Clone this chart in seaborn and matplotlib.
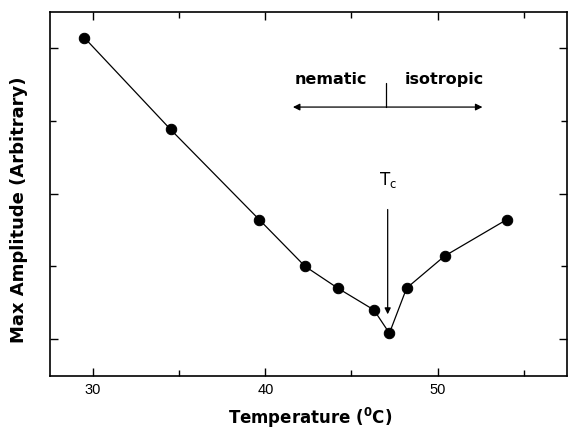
import matplotlib
matplotlib.use("Agg")
import matplotlib.pyplot as plt
import seaborn as sns
import pandas as pd
from matplotlib.ticker import MultipleLocator, NullFormatter

temperature = [29.5, 34.5, 39.65, 42.3, 44.2, 46.3, 47.2, 48.2, 50.4, 54.0]
amplitude = [2.07, 1.44, 0.82, 0.50, 0.35, 0.20, 0.04, 0.35, 0.57, 0.82]

sns.set_theme(style="ticks")
plt.rcParams['font.family'] = ['DejaVu Sans']
plt.rcParams.update({'text.color': 'black', 'axes.labelcolor': 'black',
                     'xtick.color': 'black', 'ytick.color': 'black',
                     'mathtext.fontset': 'dejavusans'})

df = pd.DataFrame({"T": temperature, "A": amplitude})

fig = plt.figure(figsize=(5.68, 4.30), dpi=100)
ax = fig.add_axes([0.088, 0.1256, 0.910, 0.8464])

sns.lineplot(data=df, x="T", y="A", ax=ax, color="black", linewidth=0.9,
             marker="o", markersize=7.5, markeredgecolor="black",
             markerfacecolor="black", sort=False)

ax.set_xlim(27.5, 57.5)
ax.set_ylim(-0.254, 2.247)
ax.xaxis.set_major_locator(MultipleLocator(10))
ax.xaxis.set_minor_locator(MultipleLocator(5))
ax.yaxis.set_major_locator(MultipleLocator(1))
ax.yaxis.set_minor_locator(MultipleLocator(0.5))
ax.yaxis.set_major_formatter(NullFormatter())
ax.tick_params(axis='both', which='both', direction='in', top=True, right=True,
               color='black', width=1.0)
ax.tick_params(axis='both', which='major', length=6)
ax.tick_params(axis='both', which='minor', length=4)
ax.tick_params(axis='x', labelsize=10.5, pad=5)
for lab in ax.get_xticklabels():
    lab.set_family(['Liberation Sans', 'DejaVu Sans'])
for s in ax.spines.values():
    s.set_linewidth(1.2)
    s.set_color('black')

ax.set_xlabel(r"Temperature ($^{\mathbf{0}}$C)", fontsize=12,
              fontweight='bold')
ax.set_ylabel("Max Amplitude (Arbitrary)", fontsize=13, fontweight='bold')
ax.xaxis.set_label_coords(0.503, -0.082)
ax.yaxis.set_label_coords(-0.043, 0.456)

# phase annotation
ax.text(43.8, 1.78, "nematic", ha="center", va="center", fontsize=11.5,
        fontweight='bold')
ax.text(50.4, 1.78, "isotropic", ha="center", va="center", fontsize=11.5,
        fontweight='bold')
ax.plot([47.03, 47.03], [1.594, 1.76], color="black", linewidth=0.9)
ax.annotate("", xy=(41.6, 1.594), xytext=(47.03, 1.594),
            arrowprops=dict(arrowstyle="-|>", color="black", lw=0.9,
                            mutation_scale=10, shrinkA=0, shrinkB=0))
ax.annotate("", xy=(52.6, 1.594), xytext=(47.03, 1.594),
            arrowprops=dict(arrowstyle="-|>", color="black", lw=0.9,
                            mutation_scale=10, shrinkA=0, shrinkB=0))

ax.text(47.1, 1.09, r"T$_{\rm c}$", ha="center", va="center", fontsize=12)
ax.annotate("", xy=(47.1, 0.17), xytext=(47.1, 0.89),
            arrowprops=dict(arrowstyle="-|>", color="black", lw=0.9,
                            mutation_scale=9, shrinkA=0, shrinkB=0))

fig.savefig("out.png", dpi=100)
